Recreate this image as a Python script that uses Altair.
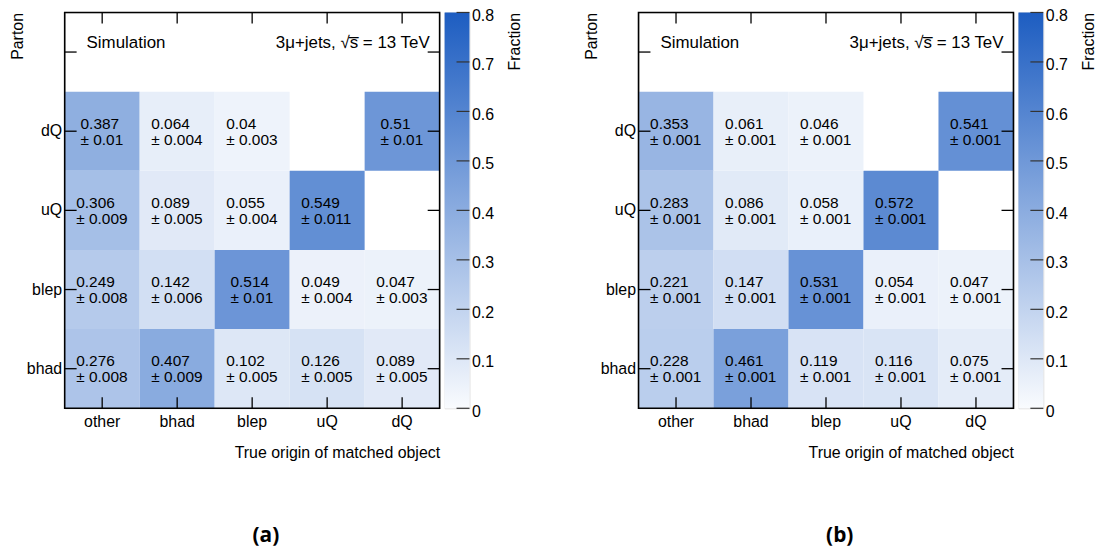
import altair as alt
import pandas as pd

# ---------------- data ----------------
cols = ["other", "bhad", "blep", "uQ", "dQ"]
rows = ["bhad", "blep", "uQ", "dQ"]          # bottom -> top
y_domain = ["top", "dQ", "uQ", "blep", "bhad"]  # top row is the empty label band

values_a = [
    [0.276, 0.407, 0.102, 0.126, 0.089],
    [0.249, 0.142, 0.514, 0.049, 0.047],
    [0.306, 0.089, 0.055, 0.549, None],
    [0.387, 0.064, 0.04, None, 0.51],
]
errors_a = [
    [0.008, 0.009, 0.005, 0.005, 0.005],
    [0.008, 0.006, 0.01, 0.004, 0.003],
    [0.009, 0.005, 0.004, 0.011, None],
    [0.01, 0.004, 0.003, None, 0.01],
]
values_b = [
    [0.228, 0.461, 0.119, 0.116, 0.075],
    [0.221, 0.147, 0.531, 0.054, 0.047],
    [0.283, 0.086, 0.058, 0.572, None],
    [0.353, 0.061, 0.046, None, 0.541],
]
errors_b = [
    [0.001, 0.001, 0.001, 0.001, 0.001],
    [0.001, 0.001, 0.001, 0.001, 0.001],
    [0.001, 0.001, 0.001, 0.001, None],
    [0.001, 0.001, 0.001, None, 0.001],
]
cbar_ticks = [0, 0.1, 0.2, 0.3, 0.4, 0.5, 0.6, 0.7, 0.8]
color_domain = [0, 0.8]

# ---------------- layout / style ----------------
W, H = 377, 398
BW = W / 5
FONT = "Liberation Sans"
FS = 15.5    # cell text
LFS = 16     # axis labels / titles
AFS = 17     # annotations
C_LOW, C_HIGH = "#f9fbfe", "#1d5dc1"

CHAR_W = {".": 0.278, " ": 0.278, "±": 0.584}


def text_w(s):
    return sum(CHAR_W.get(ch, 0.556) for ch in s) * FS


def panel_table(vals, errs):
    recs = []
    for ri, r in enumerate(rows):
        for ci, c in enumerate(cols):
            v = vals[ri][ci]
            if v is None:
                continue
            e = errs[ri][ci]
            l1 = f"{v}"
            l2 = f"± {e}"
            w = max(text_w(l1), text_w(l2))
            recs.append(dict(col=c, row=r, value=v, l1=l1, l2=l2, off=BW / 2 - w / 2))
    return pd.DataFrame(recs)


xscale = alt.Scale(domain=cols, paddingInner=0, paddingOuter=0)
yscale = alt.Scale(domain=y_domain, paddingInner=0, paddingOuter=0)
xaxis = alt.Axis(
    ticks=False, domain=False, labelFontSize=LFS, labelPadding=5, labelAngle=0,
    labelColor="black", title="True origin of matched object", titleAnchor="end",
    titleFontSize=LFS, titleFontWeight="normal", titlePadding=15, titleColor="black",
    grid=False,
)
yaxis = alt.Axis(
    ticks=False, domain=False, labelFontSize=LFS, labelPadding=3, labelColor="black",
    labelExpr="datum.value == 'top' ? '' : datum.value",
    title="Parton", titleY=0, titleAlign="right", titleAngle=270, titleFontSize=LFS,
    titleFontWeight="normal", titlePadding=1, titleColor="black", grid=False,
)


def X(**kw):
    return alt.X("col:N", scale=xscale, axis=xaxis, sort=cols, **kw)


def Y():
    return alt.Y("row:N", scale=yscale, axis=yaxis, sort=y_domain)


one = pd.DataFrame({"k": [0]})


def heat(vals, errs):
    df = panel_table(vals, errs)
    base = alt.Chart(df)
    cells = base.mark_rect().encode(
        x=X(), y=Y(),
        color=alt.Color("value:Q", scale=alt.Scale(domain=color_domain, range=[C_LOW, C_HIGH],
                                                   interpolate="rgb"), legend=None),
    )
    t1 = base.mark_text(align="left", baseline="middle", dy=-7.5, font=FONT, fontSize=FS,
                        color="black").encode(
        x=X(bandPosition=0), xOffset=alt.XOffset("off:Q", scale=None), y=Y(), text="l1:N")
    t2 = base.mark_text(align="left", baseline="middle", dy=8.5, font=FONT, fontSize=FS,
                        color="black").encode(
        x=X(bandPosition=0), xOffset=alt.XOffset("off:Q", scale=None), y=Y(), text="l2:N")
    xt = alt.Chart(pd.DataFrame({"col": cols}))
    yt = alt.Chart(pd.DataFrame({"row": y_domain}))
    tick_b = xt.mark_rule(color="black", strokeWidth=1.3).encode(x=X(), y=alt.value(H), y2=alt.value(H - 11))
    tick_t = xt.mark_rule(color="black", strokeWidth=1.3).encode(x=X(), y=alt.value(0), y2=alt.value(11))
    tick_l = yt.mark_rule(color="black", strokeWidth=1.3).encode(y=Y(), x=alt.value(0), x2=alt.value(12))
    tick_r = yt.mark_rule(color="black", strokeWidth=1.3).encode(y=Y(), x=alt.value(W - 12), x2=alt.value(W))
    frame = alt.Chart(one).mark_rect(fillOpacity=0, stroke="black", strokeWidth=1.6).encode(
        x=alt.value(0), x2=alt.value(W), y=alt.value(0), y2=alt.value(H))
    sim = alt.Chart(one).mark_text(text="Simulation", align="left", baseline="middle",
                                   font=FONT, fontSize=AFS, color="black").encode(
        x=alt.value(22), y=alt.value(31))
    lab = alt.Chart(one).mark_text(text="3μ+jets,  √s̅ = 13 TeV", align="right", baseline="middle",
                                   font=FONT, fontSize=AFS, color="black").encode(
        x=alt.value(W - 10), y=alt.value(31))
    return alt.layer(cells, t1, t2, tick_b, tick_t, tick_l, tick_r, frame, sim, lab).properties(
        width=W, height=H)


def colorbar():
    grad = {
        "gradient": "linear", "x1": 0, "y1": 1, "x2": 0, "y2": 0,
        "stops": [{"offset": 0, "color": C_LOW}, {"offset": 1, "color": C_HIGH}],
    }
    cscale = alt.Scale(domain=color_domain, nice=False, zero=False)
    caxis = alt.Axis(
        orient="right", values=cbar_ticks, format=".1~f", ticks=False, domain=False,
        labelFontSize=LFS, labelPadding=2, labelColor="black", labelOffset=3, grid=False,
        title="Fraction", titleAngle=270, titleY=0, titleAlign="right", titleBaseline="top",
        titleFontSize=LFS, titleFontWeight="normal", titlePadding=13, titleColor="black",
    )
    bar = alt.Chart(pd.DataFrame({"lo": [color_domain[0]], "hi": [color_domain[1]]})).mark_rect(
        color=grad).encode(
        y=alt.Y("lo:Q", scale=cscale, axis=caxis), y2="hi:Q", x=alt.value(0), x2=alt.value(25))
    tk = alt.Chart(pd.DataFrame({"lo": cbar_ticks})).mark_rule(color="#333333", strokeWidth=1.2).encode(
        y=alt.Y("lo:Q", scale=cscale, axis=caxis), x=alt.value(12), x2=alt.value(25))
    return alt.layer(bar, tk).properties(width=25, height=H)


def panel(vals, errs, cap):
    return alt.hconcat(heat(vals, errs), colorbar(), spacing=2).resolve_scale(
        y="independent", x="independent").properties(
        title=alt.TitleParams(cap, orient="bottom", anchor="middle", font="Open Sans",
                              fontSize=21, fontWeight="bold", color="black", offset=65))


chart = alt.hconcat(
    panel(values_a, errors_a, "(a)"),
    panel(values_b, errors_b, "(b)"),
    spacing=59,
).properties(
    padding={"left": 0, "top": -3, "right": 0, "bottom": 0}
).configure_view(strokeWidth=0).configure(font=FONT)

chart.save("out.html", embed_options={"renderer": "svg", "actions": False})
